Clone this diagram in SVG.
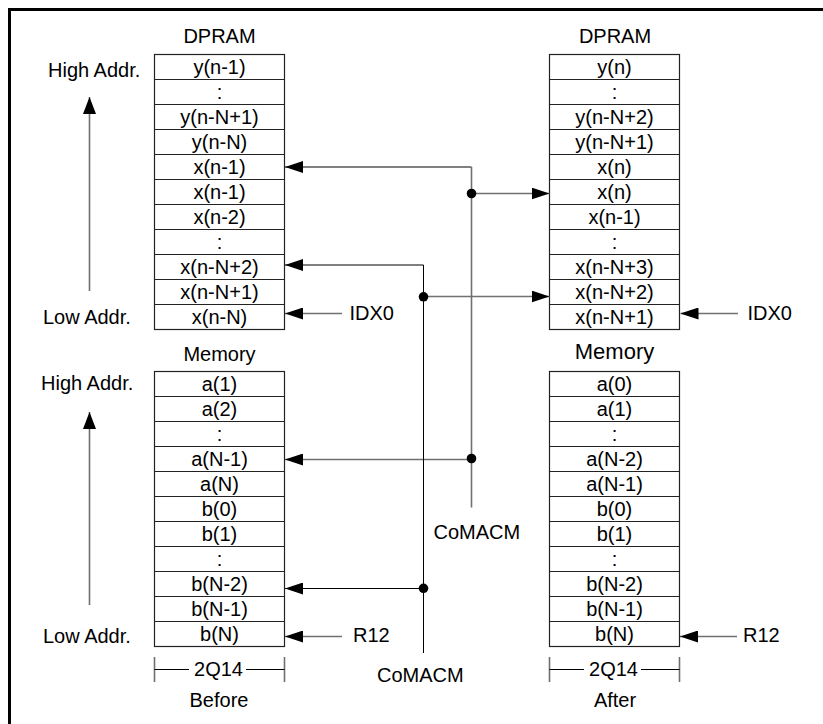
<svg xmlns="http://www.w3.org/2000/svg" width="823" height="724" viewBox="0 0 823 724">
<style>
text{font-family:"Liberation Sans",Arial,sans-serif;font-size:20px;fill:#000}
.c{text-anchor:middle}
.box{fill:#fff;stroke:#222;stroke-width:1.2}
.div{stroke:#222;stroke-width:1.2}
.ln{fill:none;stroke:#000;stroke-width:1}
.gl{fill:none;stroke:#707070;stroke-width:1.6}
</style>
<defs>
<marker id="ah" markerUnits="userSpaceOnUse" markerWidth="18" markerHeight="12" refX="18" refY="6" orient="auto" viewBox="0 0 18 12">
<path d="M0,0 L18,6 L0,12 z" fill="#000"/>
</marker>
<marker id="au" markerUnits="userSpaceOnUse" markerWidth="17" markerHeight="13" refX="17" refY="6.5" orient="auto" viewBox="0 0 17 13">
<path d="M0,0 L17,6.5 L0,13 z" fill="#000"/>
</marker>
</defs>
<rect width="823" height="724" fill="#fff"/>
<path d="M9.5,724 V9.5 H823" fill="none" stroke="#000" stroke-width="3"/>

<g id="before-dpram">
<text class="c" x="219.5" y="43">DPRAM</text>
<rect class="box" x="154.5" y="54.5" width="130" height="275"/>
<path class="div" d="M154.5,79.5H284.5M154.5,104.5H284.5M154.5,129.5H284.5M154.5,154.5H284.5M154.5,179.5H284.5M154.5,204.5H284.5M154.5,229.5H284.5M154.5,254.5H284.5M154.5,279.5H284.5M154.5,304.5H284.5"/>
<text class="c" x="219.5" y="74">y(n-1)</text>
<text class="c" x="219.5" y="99">:</text>
<text class="c" x="219.5" y="124">y(n-N+1)</text>
<text class="c" x="219.5" y="149">y(n-N)</text>
<text class="c" x="219.5" y="174">x(n-1)</text>
<text class="c" x="219.5" y="199">x(n-1)</text>
<text class="c" x="219.5" y="224">x(n-2)</text>
<text class="c" x="219.5" y="249">:</text>
<text class="c" x="219.5" y="274">x(n-N+2)</text>
<text class="c" x="219.5" y="299">x(n-N+1)</text>
<text class="c" x="219.5" y="324">x(n-N)</text>
</g>

<g id="after-dpram">
<text class="c" x="615" y="43">DPRAM</text>
<rect class="box" x="549.5" y="54.5" width="130" height="275"/>
<path class="div" d="M549.5,79.5H679.5M549.5,104.5H679.5M549.5,129.5H679.5M549.5,154.5H679.5M549.5,179.5H679.5M549.5,204.5H679.5M549.5,229.5H679.5M549.5,254.5H679.5M549.5,279.5H679.5M549.5,304.5H679.5"/>
<text class="c" x="614.5" y="74">y(n)</text>
<text class="c" x="614.5" y="99">:</text>
<text class="c" x="614.5" y="124">y(n-N+2)</text>
<text class="c" x="614.5" y="149">y(n-N+1)</text>
<text class="c" x="614.5" y="174">x(n)</text>
<text class="c" x="614.5" y="199">x(n)</text>
<text class="c" x="614.5" y="224">x(n-1)</text>
<text class="c" x="614.5" y="249">:</text>
<text class="c" x="614.5" y="274">x(n-N+3)</text>
<text class="c" x="614.5" y="299">x(n-N+2)</text>
<text class="c" x="614.5" y="324">x(n-N+1)</text>
</g>

<g id="before-memory">
<text class="c" x="219.5" y="360.5">Memory</text>
<rect class="box" x="154.5" y="371.5" width="130" height="275"/>
<path class="div" d="M154.5,396.5H284.5M154.5,421.5H284.5M154.5,446.5H284.5M154.5,471.5H284.5M154.5,496.5H284.5M154.5,521.5H284.5M154.5,546.5H284.5M154.5,571.5H284.5M154.5,596.5H284.5M154.5,621.5H284.5"/>
<text class="c" x="219.5" y="391">a(1)</text>
<text class="c" x="219.5" y="416">a(2)</text>
<text class="c" x="219.5" y="441">:</text>
<text class="c" x="219.5" y="466">a(N-1)</text>
<text class="c" x="219.5" y="491">a(N)</text>
<text class="c" x="219.5" y="516">b(0)</text>
<text class="c" x="219.5" y="541">b(1)</text>
<text class="c" x="219.5" y="566">:</text>
<text class="c" x="219.5" y="591">b(N-2)</text>
<text class="c" x="219.5" y="616">b(N-1)</text>
<text class="c" x="219.5" y="641">b(N)</text>
</g>

<g id="after-memory">
<text class="c" x="614.5" y="358.5" style="font-size:22px">Memory</text>
<rect class="box" x="549.5" y="371.5" width="130" height="275"/>
<path class="div" d="M549.5,396.5H679.5M549.5,421.5H679.5M549.5,446.5H679.5M549.5,471.5H679.5M549.5,496.5H679.5M549.5,521.5H679.5M549.5,546.5H679.5M549.5,571.5H679.5M549.5,596.5H679.5M549.5,621.5H679.5"/>
<text class="c" x="614.5" y="391">a(0)</text>
<text class="c" x="614.5" y="416">a(1)</text>
<text class="c" x="614.5" y="441">:</text>
<text class="c" x="614.5" y="466">a(N-2)</text>
<text class="c" x="614.5" y="491">a(N-1)</text>
<text class="c" x="614.5" y="516">b(0)</text>
<text class="c" x="614.5" y="541">b(1)</text>
<text class="c" x="614.5" y="566">:</text>
<text class="c" x="614.5" y="591">b(N-2)</text>
<text class="c" x="614.5" y="616">b(N-1)</text>
<text class="c" x="614.5" y="641">b(N)</text>
</g>

<g id="labels">
<text x="48" y="76.5">High Addr.</text>
<text x="43" y="324">Low Addr.</text>
<text x="41" y="390">High Addr.</text>
<text x="43" y="643">Low Addr.</text>
<text x="349.5" y="320">IDX0</text>
<text x="747.5" y="320">IDX0</text>
<text x="353" y="642">R12</text>
<text x="743" y="642">R12</text>
<text x="433.5" y="538.5">CoMACM</text>
<text x="377" y="682">CoMACM</text>
<text class="c" x="218.5" y="676">2Q14</text>
<text class="c" x="613.5" y="676">2Q14</text>
<text class="c" x="219" y="707">Before</text>
<text class="c" x="615" y="707">After</text>
</g>

<g id="connectors">
<line class="gl" x1="89.5" y1="291" x2="89.5" y2="97" marker-end="url(#au)"/>
<line class="gl" x1="89.5" y1="605" x2="89.5" y2="412" marker-end="url(#au)"/>

<path class="ln" d="M471.5,167 H285" marker-end="url(#ah)"/>
<line class="gl" x1="471.5" y1="167" x2="471.5" y2="507.5"/>
<path class="gl" d="M471.5,193.5 H549.5" marker-end="url(#ah)"/>
<path class="gl" d="M471.5,459.5 H285" marker-end="url(#ah)"/>

<path class="ln" d="M423.5,265 H285" marker-end="url(#ah)"/>
<line class="ln" x1="423.5" y1="265" x2="423.5" y2="653"/>
<path class="gl" d="M423.5,296.5 H549.5" marker-end="url(#ah)"/>
<path class="ln" d="M423.5,588.5 H285" marker-end="url(#ah)"/>

<circle cx="471.5" cy="193.5" r="4.8" fill="#000"/>
<circle cx="423.5" cy="296.8" r="4.8" fill="#000"/>
<circle cx="471.5" cy="458.5" r="4.8" fill="#000"/>
<circle cx="423.5" cy="588.3" r="4.8" fill="#000"/>

<path class="gl" d="M342,313.5 H285" marker-end="url(#ah)"/>
<path class="gl" d="M738,313.5 H680.5" marker-end="url(#ah)"/>
<path class="gl" d="M342,636.5 H285" marker-end="url(#ah)"/>
<path class="gl" d="M737,636.5 H680" marker-end="url(#ah)"/>

<path class="gl" d="M154.5,657 V682 M284.5,657 V682 M549.5,657 V682 M679.5,657 V682"/>
<path class="ln" d="M154.5,669.5 H189 M246,669.5 H284.5 M549.5,669.5 H584 M641,669.5 H679.5"/>
</g>
</svg>
